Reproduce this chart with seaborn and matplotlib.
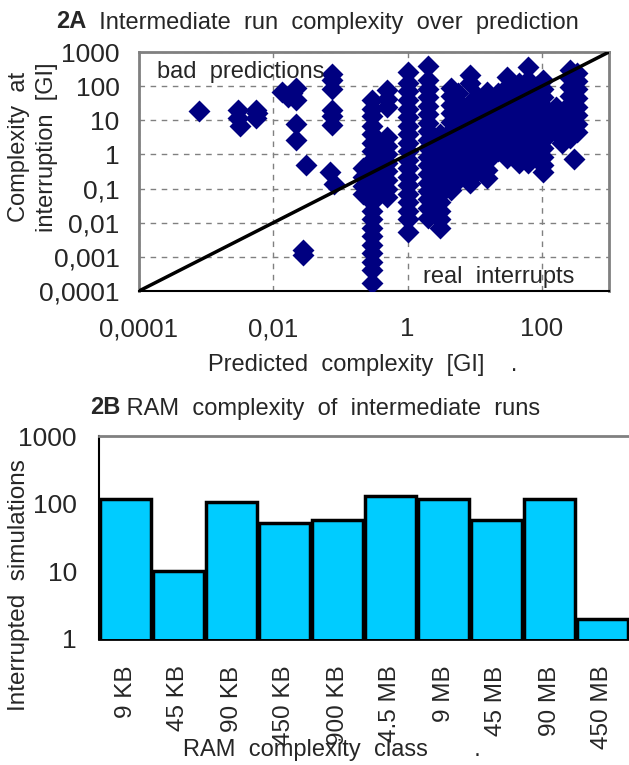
import matplotlib
matplotlib.use('Agg')
import matplotlib.pyplot as plt
import seaborn as sns
import pandas as pd
from matplotlib.ticker import NullLocator, FixedLocator

sns.set_style('white')
plt.rcParams['font.family'] = ['Liberation Sans', 'DejaVu Sans']

# ---- 2A: complexity at interruption vs predicted complexity [GI] ----
# one entry per x position, with the y values read off that column
col_pred = [0.00078, 0.003, 0.0032, 0.0055, 0.0058, 0.0135, 0.0165, 0.019,
            0.022, 0.031, 0.028, 0.075, 0.07, 0.08,
            0.22, 0.3, 0.38, 0.5, 1.0, 2.0, 3.0, 4.5, 5.6, 8.5, 11, 15, 22,
            30, 45, 63, 85, 105, 160, 200, 265, 300, 330]
col_actual = [
    [19],
    [20, 12],
    [6.7],
    [20, 12],
    [16],
    [67],
    [47],
    [62],
    [90, 40, 8, 2.6],
    [0.48],
    [0.0016, 0.0011],
    [230, 150, 85, 20, 13, 7.5],
    [0.3],
    [0.14],
    [0.4, 0.22, 0.12, 0.07],
    [40, 22, 13, 7, 4, 2.2, 1.3, 0.7, 0.4, 0.22, 0.13, 0.07, 0.04, 0.022,
     0.013, 0.007, 0.004, 0.0022, 0.0013, 0.0007, 0.0004, 0.00017],
    [0.5, 0.28, 0.16, 0.09],
    [75, 42, 24, 3.2, 1.8, 1, 0.56, 0.32, 0.18, 0.1, 0.056],
    [260, 125, 70, 40, 22, 12.5, 7, 4, 2.2, 1.25, 0.7, 0.4, 0.22, 0.125,
     0.07, 0.04, 0.022, 0.0125, 0.0055],
    [400, 150, 85, 48, 27, 15, 8.5, 4.8, 2.7, 1.5, 0.85, 0.48, 0.27, 0.15,
     0.085, 0.048, 0.027, 0.014],
    [4, 2.2, 1.25, 0.7, 0.4, 0.22, 0.125, 0.07, 0.04, 0.022, 0.0125, 0.007],
    [90, 50, 28, 16, 9, 5, 2.8, 1.6, 0.9, 0.5, 0.28, 0.16, 0.09],
    [63, 35, 20, 11, 6.3, 3.5, 2, 1.1, 0.63, 0.35, 0.18],
    [210, 125, 32, 18, 10, 5.6, 3.2, 1.8, 1, 0.56, 0.32, 0.15],
    [50, 28, 16, 9, 5, 2.8, 1.6, 0.9, 0.5, 0.32],
    [66, 35, 20, 11, 6.3, 3.5, 2, 1.1, 0.63, 0.35, 0.21],
    [63, 35, 20, 11, 6.3, 3.5, 2, 1.3],
    [180, 93, 52, 30, 17, 9.3, 5.2, 3, 1.6, 0.8],
    [125, 70, 40, 22, 12.5, 7, 4, 2.2, 1.25, 0.7, 0.55],
    [360, 150, 85, 48, 27, 15, 8.5, 4.8, 2.7, 1.5, 0.85, 0.55],
    [100, 56, 32, 18, 10, 5.6, 3.2, 1.8, 1],
    [150, 85, 48, 27, 15, 8.5, 4.8, 2.7, 1.5, 0.85, 0.48, 0.3],
    [25, 14, 8, 4.5],
    [2.1],
    [300, 170, 95, 53, 30, 17, 9.5, 5.3, 3],
    [0.75],
    [250, 140, 80, 45, 25, 14, 8, 4.5],
]

x_ticks = [0.0001, 0.01, 1, 100]
x_ticklabels = ['0,0001', '0,01', '1', '100']
y_ticks = [0.0001, 0.001, 0.01, 0.1, 1, 10, 100, 1000]
y_ticklabels = ['0,0001', '0,001', '0,01', '0,1', '1', '10', '100', '1000']

# ---- 2B: interrupted simulations per RAM class ----
ram_classes = ['9 KB', '45 KB', '90 KB', '450 KB', '900 KB',
               '4.5 MB', '9 MB', '45 MB', '90 MB', '450 MB']
interrupted = [118, 10, 105, 51, 57, 129, 118, 57, 118, 2]
bar_ticks = [1, 10, 100, 1000]

df = pd.DataFrame({
    'pred': [x for x, ys in zip(col_pred, col_actual) for _ in ys],
    'actual': [y for ys in col_actual for y in ys],
})

W, H = 629, 765
fig = plt.figure(figsize=(W / 100, H / 100), dpi=100)
grey = '#808080'

# ---------- top panel ----------
ax1 = fig.add_axes([139 / W, 1 - 291 / H, 470 / W, 239 / H])
sns.scatterplot(data=df, x='pred', y='actual', marker='D', s=125,
                color='#000080', linewidth=0, ax=ax1, zorder=3, legend=False)
ax1.set_xscale('log')
ax1.set_yscale('log')
ax1.plot([1e-4, 1e3], [1e-4, 1e3], color='black', lw=2.5, zorder=4)
ax1.set_xlim(1e-4, 1e3)
ax1.set_ylim(1e-4, 1e3)
ax1.set_xticks(x_ticks, x_ticklabels)
ax1.set_yticks(y_ticks, y_ticklabels)
ax1.xaxis.set_minor_locator(NullLocator())
ax1.yaxis.set_minor_locator(NullLocator())
ax1.tick_params(axis='x', direction='inout', length=10, width=1,
                labelsize=18.5, pad=14)
ax1.tick_params(axis='y', direction='inout', length=10, width=1,
                labelsize=19, pad=9)
ax1.grid(True, which='major', color=grey, lw=1, ls=(0, (4, 4)))
for s in ['left', 'top', 'right']:
    ax1.spines[s].set_color(grey)
    ax1.spines[s].set_linewidth(2)
ax1.spines['bottom'].set_color('black')
ax1.spines['bottom'].set_linewidth(1.5)
ax1.set_xlabel('')
ax1.set_ylabel('')
ax1.text(0.038, 0.915, 'bad  predictions', transform=ax1.transAxes,
         fontsize=17, ha='left', va='center', zorder=5)
ax1.text(0.604, 0.06, 'real  interrupts', transform=ax1.transAxes,
         fontsize=17, ha='left', va='center', zorder=5)

fig.text(33 / W, 1 - 147 / H, 'Complexity  at\ninterruption  [GI]',
         rotation=90, ha='center', va='center', multialignment='center',
         fontsize=17, linespacing=1.35)
fig.text(363 / W, 1 - 365 / H, 'Predicted  complexity  [GI]    .',
         ha='center', va='center', fontsize=17)

t1 = fig.text(56 / W, 1 - 22 / H, '2A', weight='bold', fontsize=17,
              ha='left', va='center')
fig.add_artist(matplotlib.text.Annotation(
    '  Intermediate  run  complexity  over  prediction', xy=(1, 0),
    xycoords=t1, va='bottom', ha='left', fontsize=17))

# ---------- bottom panel ----------
ax2 = fig.add_axes([99 / W, 1 - 639 / H, 530 / W, 203 / H])
sns.barplot(x=ram_classes, y=interrupted, color='#00CCFF', saturation=1,
            edgecolor='black', linewidth=2.5, width=0.95, ax=ax2, zorder=3)
ax2.set_yscale('log')
ax2.set_ylim(1, 1000)
ax2.set_xlim(-0.5, 9.5)
ax2.set_yticks(bar_ticks, [str(v) for v in bar_ticks])
ax2.yaxis.set_minor_locator(NullLocator())
ax2.xaxis.set_minor_locator(FixedLocator([i - 0.5 for i in range(len(ram_classes) + 1)]))
ax2.tick_params(axis='x', which='major', length=0, labelsize=17.5,
                labelrotation=90, pad=19)
ax2.tick_params(axis='x', which='minor', direction='out', length=8, width=1)
ax2.tick_params(axis='y', direction='inout', length=14, width=1,
                labelsize=19, pad=9)
ax2.spines['top'].set_color(grey)
ax2.spines['top'].set_linewidth(2)
ax2.spines['right'].set_visible(False)
ax2.spines['left'].set_color('black')
ax2.spines['left'].set_linewidth(1.5)
ax2.spines['bottom'].set_color('black')
ax2.spines['bottom'].set_linewidth(2)
ax2.set_xlabel('')
ax2.set_ylabel('')

fig.text(19 / W, 1 - 585 / H, 'Interrupted  simulations', rotation=90,
         ha='center', va='center', fontsize=17.5)
fig.text(332 / W, 1 - 750 / H, 'RAM  complexity  class       .',
         ha='center', va='center', fontsize=17)

t2 = fig.text(90 / W, 1 - 408 / H, '2B', weight='bold', fontsize=17,
              ha='left', va='center')
fig.add_artist(matplotlib.text.Annotation(
    ' RAM  complexity  of  intermediate  runs', xy=(1, 0),
    xycoords=t2, va='bottom', ha='left', fontsize=17))

fig.savefig('out.png', dpi=100)
